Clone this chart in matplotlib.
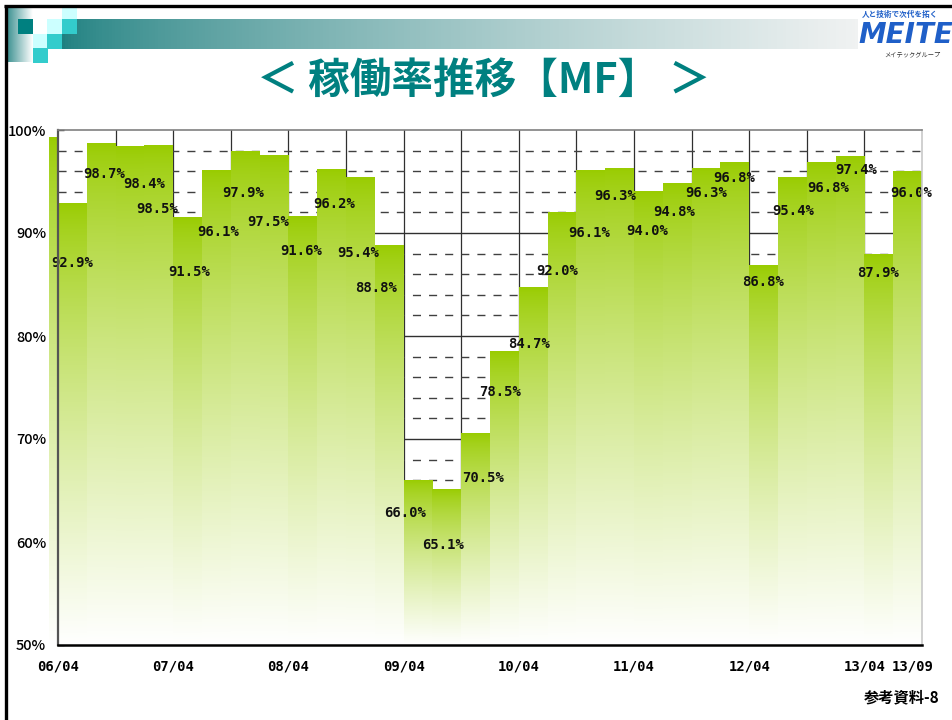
import matplotlib
matplotlib.use("Agg")
import matplotlib.pyplot as plt
import numpy as np
from matplotlib.patches import Rectangle

plt.rcParams["font.family"] = ["Noto Sans CJK JP", "DejaVu Sans"]

# 四半期ごとの稼働率（06/04期〜13/07期）
rates = [92.9, 98.7, 98.4, 98.5, 91.5, 96.1, 97.9, 97.5, 91.6, 96.2, 95.4, 88.8,
         66.0, 65.1, 70.5, 78.5, 84.7, 92.0, 96.1, 96.3, 94.0, 94.8, 96.3, 96.8,
         86.8, 95.4, 96.8, 97.4, 87.9, 96.0]
# 軸の左にはみ出している直前期の棒
prev_rate = 99.3

tick_labels = ["06/04", "07/04", "08/04", "09/04", "10/04",
               "11/04", "12/04", "13/04", "13/09"]
y_ticks = [50, 60, 70, 80, 90, 100]

# ラベルの棒中心・棒上端からのずらし（x: 四半期, y: %）
label_dx = [0.0, 0.1, 0.5, -0.05, 0.07, 0.06, -0.08, -0.21, -0.06, 0.08, -0.08, -0.46,
            -0.45, -0.13, 0.26, -0.15, -0.15, -0.17, -0.06, -0.16, -0.05, -0.11, 0.0, -0.03,
            -0.02, 0.02, 0.24, 0.21, -0.03, 0.12]
label_dy = [-5.8, -3.0, -3.6, -6.2, -5.3, -6.0, -4.0, -6.4, -3.3, -3.4, -7.3, -4.1,
            -3.2, -5.4, -4.3, -3.9, -5.5, -5.7, -6.1, -2.7, -3.8, -2.8, -2.4, -1.5,
            -1.6, -3.3, -2.4, -1.3, -1.8, -2.1]


def quarter_index(label):
    yy, mm = label.split("/")
    return (int(yy) - 6) * 4 + (int(mm) - 4) / 3


W, H = 952, 720
fig = plt.figure(figsize=(W / 100, H / 100), dpi=100)

# ---- 背景（ヘッダー帯・枠・ロゴ） ----
bg = fig.add_axes([0, 0, 1, 1])
bg.set_xlim(0, W)
bg.set_ylim(H, 0)
bg.axis("off")

t = np.linspace(0, 1, 256) ** 0.7
c0 = np.array([30, 128, 128]) / 255
c1 = np.array([240, 242, 242]) / 255
band = c0 + (c1 - c0) * t[:, None]
bg.imshow(band[None, :, :], extent=(62, 858, 49, 19), aspect="auto", zorder=1)

t2 = np.linspace(0, 1, 64)
c2 = np.array([60, 145, 145]) / 255
strip = c2 + (1 - c2) * t2[:, None]
bg.imshow(strip[None, :, :], extent=(7, 33, 62, 7), aspect="auto", zorder=1)

squares = [
    (18, 19, "#008080"), (33, 34, "#ccffff"), (47, 19, "#ccffff"), (62, 7, "#ccffff"),
    (62, 19, "#33cccc"), (47, 34, "#33cccc"), (33, 48, "#33cccc"),
]
for sx, sy, sc in squares:
    bg.add_patch(Rectangle((sx, sy), 15, 14.5, color=sc, lw=0, zorder=2))

bg.plot([4, W], [6, 6], color="black", lw=2.4, zorder=3, solid_capstyle="butt")
bg.plot([5.5, 5.5], [5, H], color="black", lw=2.4, zorder=3, solid_capstyle="butt")

bg.text(862, 14, "人と技術で次代を拓く", fontsize=5.5, color="#1f5fc8",
        style="italic", weight="bold", va="center", ha="left")
bg.text(858, 35, "MEITEC", fontsize=20, color="#1f5fc8", style="italic",
        weight="bold", family="DejaVu Sans", va="center", ha="left")
bg.text(884, 54, "メイテックグループ", fontsize=4.5, color="#333333",
        style="italic", va="center", ha="left")

bg.text(484, 81, "＜ 稼働率推移【MF】 ＞", fontsize=30, weight="bold",
        color="#008080", ha="center", va="center")
bg.text(940, 697, "参考資料-8", fontsize=11, weight="bold", color="black",
        ha="right", va="center")

# ---- グラフ本体 ----
ax = fig.add_axes([58 / W, 1 - 645 / H, 864 / W, 515 / H])
ax.set_facecolor("white")

# 縦線は半期ごと、横線は10%ごとに実線・2%ごとに破線
for x in range(2, 30, 2):
    ax.axvline(x, color="#303030", lw=0.9, zorder=1)
for y in range(52, 100, 2):
    if y % 10 == 0:
        ax.axhline(y, color="#303030", lw=1.0, zorder=1)
    else:
        ax.axhline(y, color="#404040", lw=1.0, dashes=(5.8, 5.8), zorder=1)

# 棒ごとに上端の黄緑から下端の白へグラデーション
ramp = np.linspace(0, 1, 256) ** 0.75
top = np.array([153, 204, 0]) / 255
grad = (top + (1 - top) * ramp[:, None])[:, None, :]

for i, v in enumerate(rates):
    ax.imshow(grad, extent=(i, i + 1, 50, v), aspect="auto", origin="upper",
              interpolation="bilinear", zorder=2)
im = ax.imshow(grad, extent=(-0.31, 0, 50, prev_rate), aspect="auto",
               origin="upper", interpolation="bilinear", zorder=2)
im.set_clip_on(False)

for i, v in enumerate(rates):
    ax.text(i + 0.5 + label_dx[i], v + label_dy[i], f"{v:.1f}%",
            ha="center", va="center", fontsize=10, weight="bold",
            family="DejaVu Sans Mono", color="#111111", zorder=4)

ax.set_xlim(0, 30)
ax.set_ylim(50, 100)

ax.set_xticks([quarter_index(l) for l in tick_labels])
ax.set_xticklabels(tick_labels, family="DejaVu Sans Mono", weight="bold", fontsize=10)
ax.set_xticks([quarter_index(l) + 2 for l in tick_labels[:-2]], minor=True)
ax.tick_params(axis="x", which="major", direction="in", length=4.5, width=1,
               pad=10.5, color="#333333")
ax.tick_params(axis="x", which="minor", direction="in", length=3, width=1,
               color="#333333")

ax.set_yticks(y_ticks)
ax.set_yticklabels([f"{v}%" for v in y_ticks], fontsize=10.5, weight="medium")
ax.tick_params(axis="y", direction="in", length=4.5, width=1, pad=8.5, color="#333333")

ax.spines["left"].set_color("#555555")
ax.spines["left"].set_linewidth(1.6)
ax.spines["bottom"].set_color("black")
ax.spines["bottom"].set_linewidth(1.8)
ax.spines["top"].set_color("#808080")
ax.spines["top"].set_linewidth(1.2)
ax.spines["right"].set_color("#c8c8c8")
ax.spines["right"].set_linewidth(1.2)
for s in ax.spines.values():
    s.set_zorder(5)

fig.savefig("out.png", dpi=100)
